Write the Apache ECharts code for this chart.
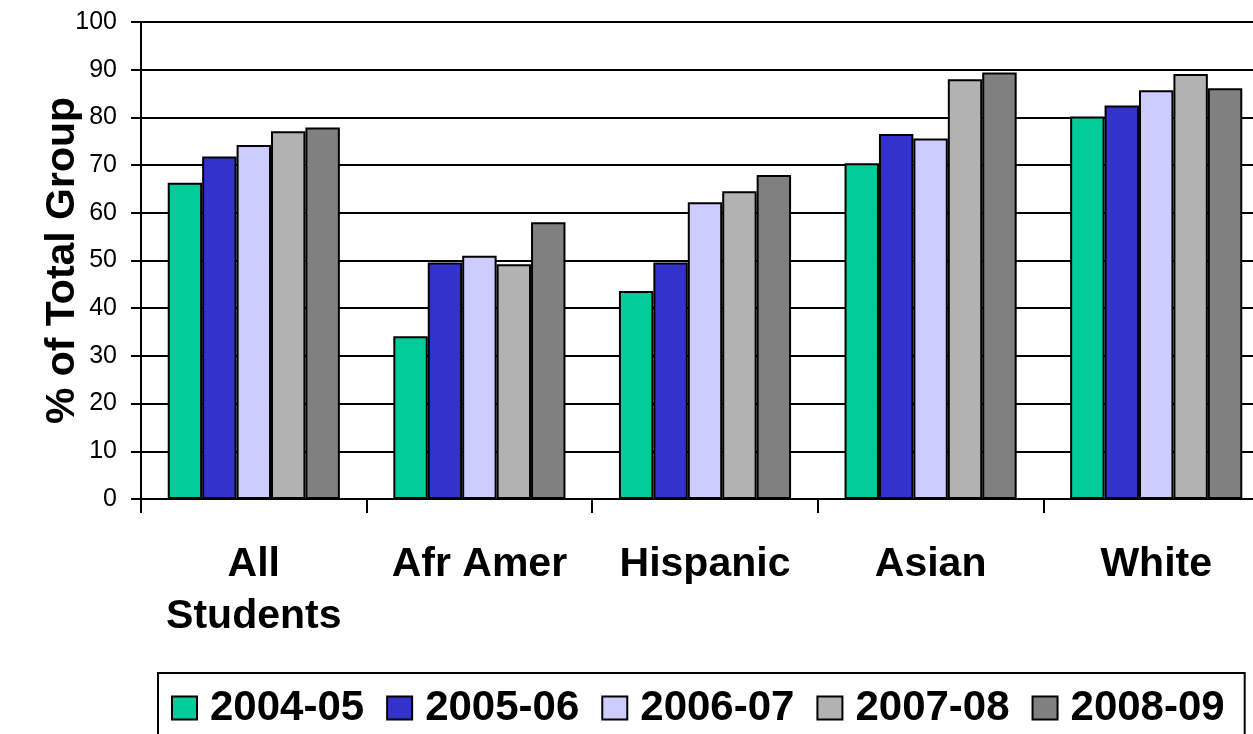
<!DOCTYPE html>
<html>
<head>
<meta charset="utf-8">
<script src="https://cdn.jsdelivr.net/npm/echarts@6/dist/echarts.min.js"></script>
<style>
  html, body { margin: 0; padding: 0; background: #fff; overflow: hidden; }
  /* plot area runs past the right edge of the window, as in the original */
  #chart { width: 1269px; height: 734px; }
</style>
</head>
<body>
<div id="chart"></div>
<script>
// categories and tick labels
const groups = ['All\nStudents', 'Afr Amer', 'Hispanic', 'Asian', 'White']
const years = ['2004-05', '2005-06', '2006-07', '2007-08', '2008-09']

// % of total group
const y2004 = [66.3, 34.1, 43.6, 70.4, 80.2]
const y2005 = [71.8, 49.6, 49.6, 76.5, 82.5]
const y2006 = [74.2, 51.0, 62.2, 75.6, 85.7]
const y2007 = [77.1, 49.2, 64.5, 88.0, 89.1]
const y2008 = [77.9, 58.0, 67.9, 89.4, 86.1]

const yearValues = [y2004, y2005, y2006, y2007, y2008]
const colors = ['#00CC99', '#3333CC', '#CCCCFF', '#B2B2B2', '#808080']

const font = "'Liberation Sans', Arial, sans-serif"

const chart = echarts.init(document.getElementById('chart'))
chart.setOption({
  animation: false,
  color: colors,
  grid: { left: 141, top: 22, bottom: 235, right: 0, containLabel: false },
  legend: {
    left: 158,
    top: 673,
    orient: 'horizontal',
    icon: 'rect',
    padding: [14, 20, 40, 13],
    borderColor: '#000',
    borderWidth: 2,
    itemWidth: 25,
    itemHeight: 23,
    itemGap: 22,
    textStyle: {
      fontFamily: font,
      fontWeight: 'bold',
      fontSize: 42,
      color: '#000',
      lineHeight: 40,
      padding: [0, 0, 0, 8]
    },
    data: years
  },
  xAxis: {
    type: 'category',
    data: groups,
    axisLine: { lineStyle: { color: '#000', width: 2 } },
    axisTick: { show: true, length: 14, interval: 0, alignWithLabel: false, lineStyle: { color: '#000', width: 2 } },
    axisLabel: {
      interval: 0,
      margin: 40,
      fontFamily: font,
      fontWeight: 'bold',
      fontSize: 41,
      lineHeight: 52,
      color: '#000'
    },
    splitLine: { show: false }
  },
  yAxis: {
    type: 'value',
    min: 0,
    max: 100,
    interval: 10,
    name: '% of Total Group',
    nameLocation: 'middle',
    nameGap: 58,
    nameMoveOverlap: false,
    nameTextStyle: {
      fontFamily: font,
      fontWeight: 'bold',
      fontSize: 41,
      color: '#000'
    },
    axisLine: { show: true, lineStyle: { color: '#000', width: 2 } },
    axisTick: { show: true, length: 10, lineStyle: { color: '#000', width: 2 } },
    axisLabel: {
      margin: 24,
      fontFamily: font,
      fontSize: 25,
      color: '#000'
    },
    splitLine: { show: true, lineStyle: { color: '#000', width: 2 } }
  },
  series: years.map((name, i) => ({
    name: name,
    type: 'bar',
    data: yearValues[i],
    barGap: '0%',
    barCategoryGap: '23.7%',
    itemStyle: { color: colors[i], borderColor: '#000', borderWidth: 2 }
  }))
})
</script>
</body>
</html>
